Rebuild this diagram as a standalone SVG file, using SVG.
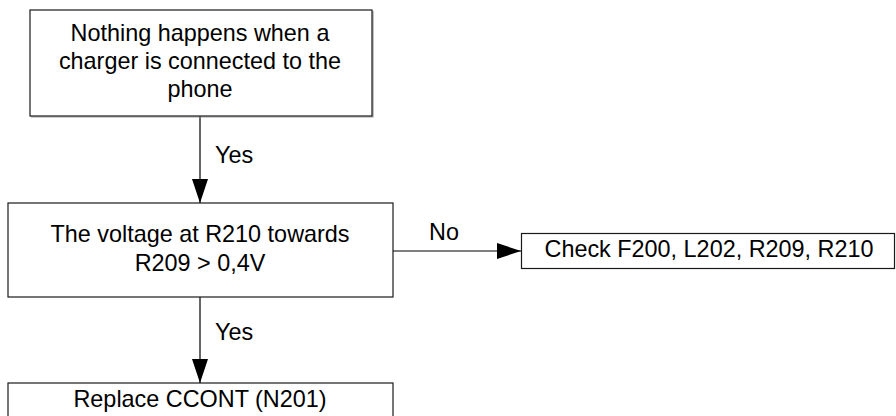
<svg xmlns="http://www.w3.org/2000/svg" width="896" height="416" viewBox="0 0 896 416">
  <style>
    .box { fill: #ffffff; stroke: #1a1a1a; stroke-width: 1.2; }
    .shadow { fill: none; stroke: #9a9a9a; stroke-width: 1.2; }
    .txt { font-family: "Liberation Sans", Arial, sans-serif; font-size: 23.4px; fill: #000000; text-anchor: middle; }
    .lbl { font-family: "Liberation Sans", Arial, sans-serif; font-size: 23.4px; fill: #000000; }
    .wire { stroke: #000000; stroke-width: 1.2; fill: none; }
  </style>
  <defs>
    <marker id="arrow" viewBox="0 0 24 16" refX="24" refY="8" markerWidth="24" markerHeight="16" markerUnits="userSpaceOnUse" orient="auto">
      <path d="M0,0 L24,8 L0,16 Z" fill="#000000"/>
    </marker>
  </defs>

  <rect width="896" height="416" fill="#ffffff"/>

  <g id="connectors">
    <line class="wire" x1="200" y1="116" x2="200" y2="203" marker-end="url(#arrow)"/>
    <text class="lbl" x="215" y="163">Yes</text>
    <line class="wire" x1="200" y1="297" x2="200" y2="383" marker-end="url(#arrow)"/>
    <text class="lbl" x="215" y="340">Yes</text>
    <line class="wire" x1="393" y1="251" x2="521" y2="251" marker-end="url(#arrow)"/>
    <text class="lbl" x="429" y="240">No</text>
  </g>

  <g id="start">
    <path class="shadow" d="M31,117 H373 V11"/>
    <rect class="box" x="30" y="10" width="342" height="106"/>
    <text class="txt" x="200" y="41">Nothing happens when a</text>
    <text class="txt" x="200" y="69">charger is connected to the</text>
    <text class="txt" x="200" y="97">phone</text>
  </g>

  <g id="check-voltage">
    <rect class="box" x="8" y="203" width="385" height="94"/>
    <text class="txt" x="200" y="242">The voltage at R210 towards</text>
    <text class="txt" x="200" y="271">R209 &gt; 0,4V</text>
  </g>

  <g id="check-parts">
    <rect class="box" x="521.5" y="233.5" width="373" height="35"/>
    <text class="txt" x="709" y="257">Check F200, L202, R209, R210</text>
  </g>

  <g id="replace">
    <rect class="box" x="8" y="383" width="385" height="40"/>
    <text class="txt" x="200" y="407">Replace CCONT (N201)</text>
  </g>
</svg>
